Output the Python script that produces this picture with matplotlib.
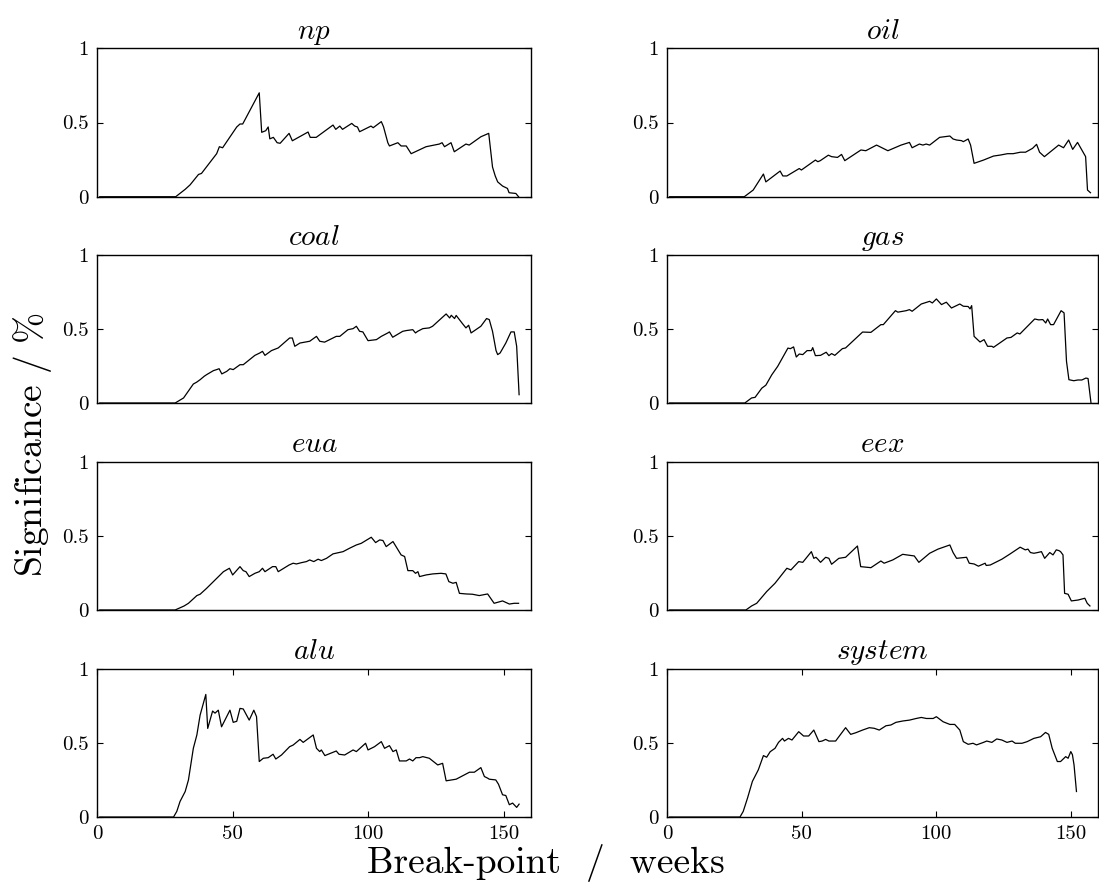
import numpy as np
import matplotlib
matplotlib.use("Agg")
import matplotlib.pyplot as plt

plt.rcParams["font.family"] = "serif"
plt.rcParams["font.serif"] = ["cmr10"]
plt.rcParams["mathtext.fontset"] = "cm"
plt.rcParams["axes.formatter.use_mathtext"] = True

# (break-point week, significance)
np_pts = [(1, 0), (29, 0), (32.5, 0.05), (34.3, 0.08), (37.4, 0.15), (38.5, 0.157), (44.1, 0.29),
          (45.1, 0.337), (46.3, 0.33), (51.5, 0.47), (52.7, 0.49), (53.7, 0.49), (59.8, 0.70),
          (60.7, 0.434), (62.2, 0.445), (63.1, 0.47), (63.7, 0.39), (65, 0.40), (66.4, 0.364),
          (67.5, 0.36), (70.8, 0.427), (72, 0.377), (77.8, 0.436), (78.6, 0.40), (80.8, 0.40),
          (87, 0.483), (88, 0.454), (89.5, 0.476), (90.5, 0.454), (93.9, 0.494), (95, 0.476),
          (96, 0.47), (96.8, 0.438), (101, 0.476), (101.8, 0.465), (104.8, 0.506), (105.6, 0.472),
          (107.2, 0.364), (107.8, 0.342), (110.9, 0.364), (112.1, 0.342), (114, 0.342), (115.8, 0.29),
          (121.3, 0.337), (126.2, 0.355), (127.2, 0.364), (128.1, 0.337), (130.5, 0.364),
          (131.7, 0.303), (136, 0.355), (137.2, 0.348), (141.5, 0.404), (144.4, 0.427), (145.8, 0.20),
          (146.8, 0.14), (147.7, 0.10), (149.5, 0.072), (151.3, 0.056), (151.9, 0.027), (154.4, 0.022),
          (155.4, 0.0)]

oil_pts = [(1, 0), (28.7, 0), (32, 0.045), (35.8, 0.153), (36.7, 0.10), (42, 0.173), (43, 0.14),
           (44.5, 0.14), (49.1, 0.19), (49.9, 0.18), (55.1, 0.247), (56, 0.236), (56.9, 0.243),
           (59.9, 0.28), (61.1, 0.27), (63.3, 0.265), (64.8, 0.285), (66, 0.243), (72, 0.315),
           (73.8, 0.31), (77.8, 0.348), (82, 0.31), (86.9, 0.348), (90, 0.366), (91, 0.33),
           (93.7, 0.355), (95, 0.348), (96.2, 0.355), (97.5, 0.348), (101.2, 0.40), (105, 0.409),
           (106.2, 0.389), (107.5, 0.382), (109.3, 0.378), (110, 0.371), (111.8, 0.389), (112.7, 0.348),
           (114, 0.225), (117.5, 0.247), (121.2, 0.274), (123.8, 0.281), (126.4, 0.29), (128.5, 0.29),
           (131.2, 0.30), (133.1, 0.30), (135.7, 0.326), (137.2, 0.353), (138.3, 0.30), (140.1, 0.27),
           (145.4, 0.348), (147.2, 0.33), (149.1, 0.382), (150.6, 0.319), (152.4, 0.366), (155.4, 0.27),
           (156.1, 0.045), (157.2, 0.027)]

coal_pts = [(1, 0), (28.8, 0), (31.9, 0.034), (35.5, 0.128), (36.7, 0.14), (38, 0.157), (39.5, 0.18),
            (40.4, 0.191), (42.9, 0.218), (44.1, 0.225), (45, 0.231), (46, 0.196), (47.8, 0.213),
            (49, 0.231), (50.2, 0.225), (52.7, 0.258), (53.9, 0.258), (58.2, 0.321), (60, 0.337),
            (61, 0.348), (61.9, 0.321), (64.3, 0.353), (66.8, 0.371), (71, 0.438), (72, 0.438),
            (72.9, 0.382), (74.8, 0.404), (76.6, 0.41), (78.4, 0.416), (80.9, 0.449), (82.1, 0.416),
            (83.9, 0.41), (88.2, 0.449), (89.5, 0.449), (92.5, 0.494), (94.4, 0.501), (95.6, 0.517),
            (96.8, 0.483), (98, 0.479), (99.9, 0.42), (103, 0.427), (104.8, 0.449), (107.2, 0.472),
            (107.8, 0.479), (109, 0.443), (112.7, 0.483), (114, 0.488), (116.4, 0.494), (117.4, 0.472),
            (118.2, 0.483), (120.1, 0.501), (122.5, 0.506), (123.7, 0.517), (128.7, 0.60), (130, 0.573),
            (130.6, 0.591), (131.8, 0.569), (132.4, 0.59), (134.8, 0.533), (136, 0.506), (137, 0.524),
            (137.9, 0.472), (141.5, 0.517), (143.6, 0.569), (144.6, 0.562), (145.8, 0.483),
            (147.1, 0.353), (147.7, 0.326), (148.6, 0.337), (150.7, 0.404), (152.6, 0.479),
            (153.8, 0.479), (154.7, 0.382), (155.6, 0.056)]

gas_pts = [(1, 0), (28.9, 0), (31.4, 0.034), (32.7, 0.038), (35.2, 0.10), (36.7, 0.12), (38.9, 0.19),
           (41.1, 0.247), (44.9, 0.37), (45.8, 0.366), (47, 0.378), (48, 0.31), (49.1, 0.33),
           (50.4, 0.326), (52, 0.353), (53.6, 0.353), (54.1, 0.373), (55.1, 0.319), (57, 0.321),
           (59.1, 0.342), (60.1, 0.319), (61.1, 0.333), (62.3, 0.321), (65.1, 0.366), (66.3, 0.371),
           (72.6, 0.478), (75.7, 0.476), (79.4, 0.528), (80.3, 0.528), (84.8, 0.622), (85.7, 0.612),
           (88.8, 0.622), (90, 0.629), (91, 0.618), (94.4, 0.667), (97.5, 0.685), (98.5, 0.674),
           (100, 0.701), (101.9, 0.663), (103.1, 0.674), (103.7, 0.679), (105.6, 0.64), (108.7, 0.667),
           (110, 0.652), (111.8, 0.65), (112.5, 0.634), (113.1, 0.656), (114, 0.449), (116.2, 0.411),
           (117.7, 0.427), (119, 0.382), (120.6, 0.382), (121.2, 0.375), (126.2, 0.438), (127.7, 0.442),
           (130, 0.472), (131, 0.465), (136.5, 0.566), (138, 0.56), (139.5, 0.562), (140.6, 0.539),
           (141.3, 0.566), (142.4, 0.528), (143.5, 0.528), (146.3, 0.622), (147.4, 0.607),
           (148.3, 0.281), (149.2, 0.157), (151, 0.15), (152.5, 0.155), (154, 0.155), (155.5, 0.168),
           (156.3, 0.165), (157.4, 0.0)]

eua_pts = [(1, 0), (28.8, 0), (32.1, 0.027), (33.7, 0.045), (36.8, 0.097), (38, 0.106), (40.4, 0.146),
           (43.5, 0.202), (46.6, 0.258), (48.8, 0.281), (50, 0.236), (52.7, 0.292), (53.9, 0.265),
           (54.9, 0.258), (56.1, 0.225), (58.2, 0.247), (59.8, 0.258), (61, 0.281), (61.9, 0.258),
           (64.7, 0.292), (65.9, 0.292), (66.8, 0.258), (70.8, 0.303), (72.3, 0.315), (73.5, 0.31),
           (75.4, 0.319), (77.2, 0.326), (78.4, 0.337), (79.9, 0.326), (81.5, 0.342), (82.7, 0.333),
           (84.6, 0.348), (87, 0.378), (90.7, 0.393), (93.1, 0.416), (95.6, 0.438), (97.4, 0.449),
           (101.1, 0.49), (102.7, 0.454), (104.2, 0.472), (105.4, 0.468), (106.6, 0.427), (109.1, 0.461),
           (112.1, 0.371), (113.4, 0.36), (114.6, 0.265), (116.4, 0.265), (117.4, 0.247), (118.3, 0.258),
           (118.9, 0.225), (121.3, 0.236), (123.8, 0.243), (126.8, 0.247), (128.6, 0.243), (129.7, 0.191),
           (131.2, 0.18), (132.4, 0.186), (133.6, 0.112), (136, 0.108), (138.4, 0.106), (140.9, 0.097),
           (144, 0.108), (146.4, 0.045), (149.5, 0.061), (152, 0.04), (153.8, 0.045), (155.4, 0.045)]

eex_pts = [(1, 0), (29.3, 0), (31.4, 0.027), (33.3, 0.045), (37, 0.124), (40.1, 0.18), (44.5, 0.281),
           (46, 0.27), (48.9, 0.326), (50.4, 0.321), (53.6, 0.393), (54.5, 0.348), (55.3, 0.355),
           (56, 0.342), (57, 0.321), (58.9, 0.355), (60.1, 0.348), (61.1, 0.308), (63.8, 0.348),
           (66.3, 0.355), (70.7, 0.431), (71.9, 0.292), (75.7, 0.285), (79.4, 0.33), (80.6, 0.315),
           (83.8, 0.337), (87.5, 0.375), (89, 0.371), (91.8, 0.364), (93.5, 0.321), (97.5, 0.382),
           (100.6, 0.41), (105, 0.438), (106.2, 0.387), (107.5, 0.348), (111.2, 0.355), (112.2, 0.315),
           (114, 0.31), (115.6, 0.295), (118.1, 0.315), (118.5, 0.30), (120, 0.303), (124.3, 0.342),
           (127.4, 0.378), (131.1, 0.423), (133, 0.405), (134, 0.41), (134.9, 0.387), (136.2, 0.382),
           (137.6, 0.387), (139, 0.393), (140.2, 0.348), (142.1, 0.387), (143.3, 0.371), (144.5, 0.405),
           (145.5, 0.40), (146.1, 0.393), (147, 0.371), (147.6, 0.112), (148.9, 0.106), (150.1, 0.061),
           (152.6, 0.067), (155.1, 0.079), (156, 0.045), (157, 0.027)]

alu_pts = [(1, 0), (28.2, 0), (29.4, 0.038), (30.6, 0.105), (32.5, 0.172), (33.7, 0.25), (35.5, 0.463),
           (36.8, 0.553), (38, 0.687), (40.1, 0.826), (40.8, 0.597), (42.6, 0.714), (43.5, 0.70),
           (44.7, 0.72), (45.9, 0.608), (49, 0.72), (50.2, 0.638), (51.5, 0.645), (52.7, 0.732),
           (53.9, 0.728), (56.1, 0.653), (57.8, 0.72), (58.8, 0.676), (59.8, 0.374), (61.3, 0.396),
           (63.1, 0.40), (64.9, 0.423), (65.9, 0.391), (68, 0.418), (71, 0.474), (72.3, 0.485),
           (74.8, 0.523), (76, 0.503), (79.7, 0.553), (80.9, 0.463), (82.1, 0.441), (82.7, 0.452),
           (84, 0.414), (85.2, 0.423), (88.2, 0.445), (89.2, 0.423), (91.3, 0.418), (94.4, 0.452),
           (95.6, 0.441), (99, 0.497), (99.9, 0.452), (102.3, 0.474), (104.8, 0.508), (106, 0.463),
           (107.8, 0.481), (109.1, 0.441), (110.3, 0.452), (111.5, 0.378), (114, 0.378), (115.2, 0.391),
           (116.4, 0.378), (117.6, 0.40), (118.9, 0.40), (120.1, 0.407), (122.5, 0.396), (125.6, 0.351),
           (127.4, 0.362), (128.7, 0.244), (132.4, 0.255), (137.3, 0.302), (139.1, 0.302), (141.5, 0.333),
           (142.8, 0.273), (144, 0.262), (144.6, 0.255), (147, 0.25), (148, 0.221), (149.5, 0.15),
           (150.7, 0.145), (152, 0.083), (153.2, 0.094), (154.7, 0.065), (155.6, 0.087)]

system_pts = [(1, 0), (27.1, 0), (28.3, 0.038), (29.9, 0.128), (31.7, 0.24), (33.9, 0.318), (35.8, 0.414),
              (37, 0.403), (38.3, 0.44), (40.1, 0.463), (41.4, 0.503), (42.9, 0.53), (43.6, 0.512),
              (45.1, 0.53), (46.4, 0.519), (48.9, 0.575), (50.7, 0.546), (52.6, 0.546), (54.5, 0.586),
              (56.4, 0.508), (57.6, 0.512), (58.9, 0.523), (60.1, 0.512), (62.6, 0.512), (66.3, 0.602),
              (68.2, 0.557), (70.1, 0.568), (72.6, 0.586), (75.1, 0.602), (76.9, 0.598), (78.8, 0.586),
              (81.3, 0.615), (83.1, 0.62), (85, 0.638), (87.5, 0.647), (90, 0.653), (92.5, 0.664),
              (94.4, 0.671), (96.3, 0.664), (98.8, 0.664), (100, 0.676), (102.5, 0.642), (105, 0.624),
              (106.8, 0.624), (108.7, 0.586), (110, 0.508), (111.8, 0.49), (113.6, 0.497), (114.9, 0.486),
              (117.5, 0.503), (118.7, 0.512), (120.6, 0.503), (122.4, 0.526), (124.3, 0.519),
              (126.2, 0.503), (128.1, 0.512), (129.3, 0.497), (131.8, 0.497), (133.7, 0.508),
              (136.2, 0.53), (138.7, 0.541), (140.5, 0.57), (141.7, 0.557), (143, 0.463), (144.9, 0.374),
              (146.1, 0.374), (148, 0.407), (148.9, 0.396), (149.9, 0.441), (150.5, 0.42), (151.1, 0.351),
              (152, 0.172)]

names = ["np", "oil", "coal", "gas", "eua", "eex", "alu", "system"]
series = [np_pts, oil_pts, coal_pts, gas_pts, eua_pts, eex_pts, alu_pts, system_pts]

fig = plt.figure(figsize=(10.99, 8.83), dpi=100)

col_left = [0.0883, 0.6069]
col_width = [0.3949, 0.3922]
row_bottom = [0.7772, 0.5436, 0.3092, 0.0747]
row_height = 0.1681

for i, (name, pts) in enumerate(zip(names, series)):
    r, c = divmod(i, 2)
    ax = fig.add_axes([col_left[c], row_bottom[r], col_width[c], row_height])
    xy = np.array(pts)
    ax.plot(xy[:, 0], xy[:, 1], color="black", linewidth=0.9)
    ax.set_xlim(0, 160)
    ax.set_ylim(0, 1)
    ax.set_yticks([0, 0.5, 1])
    ax.set_yticklabels(["0", "0.5", "1"])
    if r == 3:
        ax.set_xticks([0, 50, 100, 150])
        ax.set_xticklabels(["0", "50", "100", "150"])
    else:
        ax.set_xticks([])
    ax.tick_params(direction="in", length=4, width=0.8, labelsize=15, pad=6,
                   right=True, top=(r == 3))
    for s in ax.spines.values():
        s.set_linewidth(1.0)
    ax.set_title("$" + name + "$", fontsize=21, pad=7)

fig.text(0.497, 0.011, "Break-point  /  weeks", ha="center", va="baseline", fontsize=27)
fig.text(0.010, 0.496, r"$\mathrm{Significance\ /\ \%}$", rotation=90, ha="left", va="center", fontsize=27)

fig.savefig("out.png", dpi=100)
